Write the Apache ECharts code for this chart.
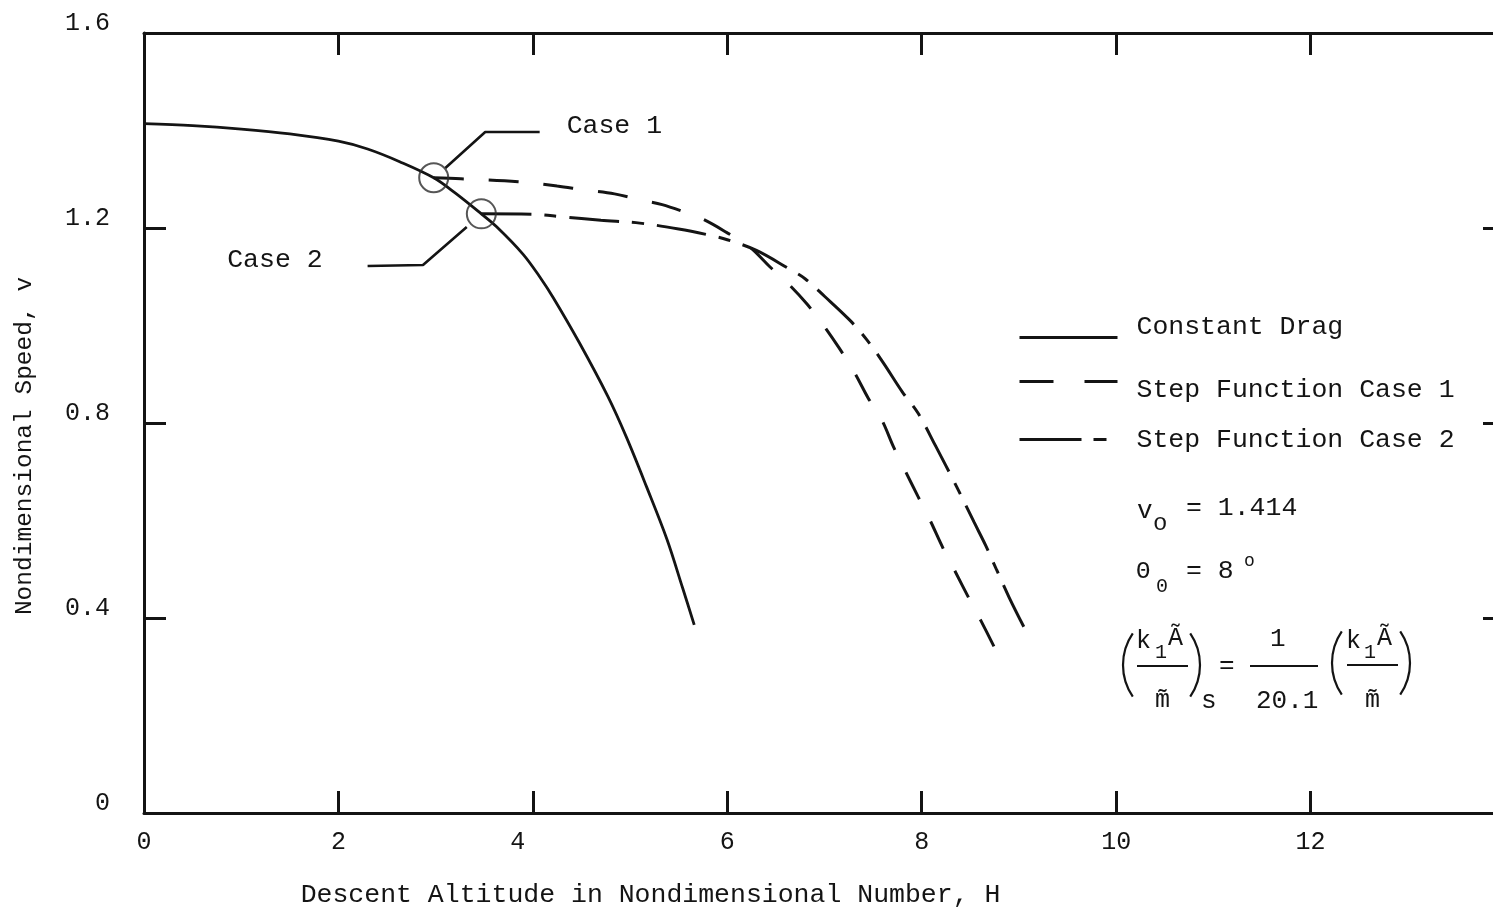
<!DOCTYPE html>
<html>
<head>
<meta charset="utf-8">
<script src="https://cdn.jsdelivr.net/npm/echarts@6/dist/echarts.min.js"></script>
<style>
  html, body { margin: 0; padding: 0; background: #fff; }
  #chart { width: 1493px; height: 909px; }
</style>
</head>
<body>
<div id="chart"></div>
<script>
const FONT = "'Liberation Mono', 'DejaVu Sans Mono', monospace";
const INK = '#141414';

// Descent altitude H and nondimensional speed v along each curve
const constantDragH = [0, 0.5, 1.0, 1.5, 2.0, 2.3, 2.63, 2.98, 3.2, 3.47, 3.63, 3.90, 4.07, 4.21, 4.48, 4.77, 4.96, 5.17, 5.38, 5.54, 5.66];
const constantDragV = [1.414, 1.410, 1.403, 1.393, 1.378, 1.362, 1.336, 1.303, 1.272, 1.229, 1.202, 1.146, 1.100, 1.057, 0.964, 0.855, 0.772, 0.669, 0.561, 0.462, 0.386];

const case1H = [2.98, 3.26, 3.85, 4.25, 4.53, 4.84, 5.12, 5.33, 5.54, 5.76, 6.0, 6.23, 6.44, 6.64, 6.82, 6.98, 7.15, 7.31, 7.45, 7.59, 7.71, 7.81, 7.96, 8.08, 8.22, 8.34, 8.50, 8.61, 8.76];
const case1V = [1.303, 1.301, 1.295, 1.286, 1.278, 1.270, 1.257, 1.248, 1.234, 1.217, 1.190, 1.161, 1.120, 1.083, 1.044, 1.003, 0.954, 0.903, 0.851, 0.806, 0.751, 0.710, 0.650, 0.603, 0.543, 0.497, 0.435, 0.394, 0.335];

const case2H = [3.47, 4.0, 4.3, 4.7, 5.1, 5.5, 5.8, 6.0, 6.3, 6.62, 6.80, 7.0, 7.26, 7.43, 7.6, 7.80, 7.96, 8.14, 8.36, 8.54, 8.66, 8.77, 8.9, 9.05];
const case2V = [1.229, 1.228, 1.223, 1.216, 1.210, 1.198, 1.186, 1.176, 1.154, 1.118, 1.096, 1.060, 1.011, 0.972, 0.925, 0.864, 0.821, 0.754, 0.669, 0.596, 0.548, 0.499, 0.442, 0.382];

// Points where the drag steps down, and the callout lines pointing at them
const stepPointH = [2.98, 3.47];
const stepPointV = [1.303, 1.229];
const case1LeaderH = [3.10, 3.51, 4.07];
const case1LeaderV = [1.323, 1.397, 1.397];
const case2LeaderH = [3.32, 2.87, 2.30];
const case2LeaderV = [1.202, 1.124, 1.122];
const calloutNames = ['Case 1', 'Case 2'];

// Tick labels
const hTickLabels = ['0', '2', '4', '6', '8', '10', '12', ''];
const vTickLabels = ['0', '0.4', '0.8', '1.2', '1.6'];

const seriesNames = ['Constant Drag', 'Step Function Case 1', 'Step Function Case 2'];

const zip = (xs, ys) => xs.map((x, i) => [x, ys[i]]);

const chart = echarts.init(document.getElementById('chart'), null, { renderer: 'canvas' });

const axisLineStyle = { color: INK, width: 3 };
const frameTick = { show: true, inside: true, length: 22, lineStyle: { color: INK, width: 3 } };

function leaderData(xs, ys, text, pos, dist) {
  return zip(xs, ys).map((p, i) => i === xs.length - 1
    ? { value: p, label: { show: true, formatter: text, position: pos, distance: dist, offset: [0, -6],
        fontFamily: FONT, fontSize: 26.5, color: INK } }
    : { value: p });
}

function t(str, x, y, size) {
  return { type: 'text', x: x, y: y, silent: true,
    style: { text: str, fontFamily: FONT, fontSize: size, fill: INK, align: 'left', verticalAlign: 'middle' } };
}
function bar(x1, x2, y) {
  return { type: 'line', silent: true, shape: { x1: x1, y1: y, x2: x2, y2: y }, style: { stroke: INK, lineWidth: 2 } };
}
function paren(edgeX, cy, left) {
  const r = 56, a = 0.6;
  const cx = left ? edgeX + r : edgeX - r;
  const mid = left ? Math.PI : 0;
  return { type: 'arc', silent: true,
    shape: { cx: cx, cy: cy, r: r, startAngle: mid - a, endAngle: mid + a, clockwise: true },
    style: { stroke: INK, lineWidth: 2.2, fill: 'none' } };
}

function legendFor(name, top, dash, shiftUp) {
  return {
    data: [name], left: 1018, top: top, orient: 'vertical', padding: 0,
    itemWidth: 98, itemHeight: 14, selectedMode: false,
    lineStyle: dash ? { width: 3, type: dash } : { width: 3 },
    itemStyle: { opacity: 0 },
    formatter: '{a|{name}}',
    textStyle: {
      fontFamily: FONT, fontSize: 26.5, color: INK, padding: [0, 0, 0, 14],
      rich: { a: { fontFamily: FONT, fontSize: 26.5, color: INK,
        padding: shiftUp > 0 ? [0, 0, 2 * shiftUp, 0] : [-2 * shiftUp, 0, 0, 0] } }
    }
  };
}

const option = {
  backgroundColor: '#ffffff',
  animation: false,
  grid: { left: 144, top: 33, width: 1361, height: 780, containLabel: false, outerBoundsMode: 'none' },
  xAxis: [
    {
      type: 'value', min: 0, max: 14, interval: 2, position: 'bottom',
      axisLine: { show: true, onZero: false, lineStyle: axisLineStyle },
      axisTick: frameTick,
      splitLine: { show: false },
      axisLabel: {
        margin: 17, color: INK, fontFamily: FONT, fontSize: 25,
        formatter: v => {
          const s = hTickLabels[Math.round(v / 2)] || '';
          return v === 4 ? '{l|' + s + '}' : s;
        },
        rich: { l: { padding: [0, 30, 0, 0], fontFamily: FONT, fontSize: 25, color: INK } }
      },
      name: 'Descent Altitude in Nondimensional Number, H',
      nameLocation: 'middle', nameGap: 68,
      nameTextStyle: { fontFamily: FONT, fontSize: 26.5, color: INK, padding: [0, 348, 0, 0] }
    },
    {
      type: 'value', min: 0, max: 14, interval: 2, position: 'top',
      axisLine: { show: true, onZero: false, lineStyle: axisLineStyle },
      axisTick: frameTick,
      splitLine: { show: false },
      axisLabel: { show: false }
    }
  ],
  yAxis: [
    {
      type: 'value', min: 0, max: 1.6, interval: 0.4, position: 'left',
      axisLine: { show: true, onZero: false, lineStyle: axisLineStyle },
      axisTick: frameTick,
      splitLine: { show: false },
      axisLabel: {
        margin: 34, color: INK, fontFamily: FONT, fontSize: 25, verticalAlign: 'bottom', lineHeight: 20,
        formatter: v => vTickLabels[Math.round(v / 0.4)] || ''
      },
      name: 'Nondimensional Speed, v',
      nameLocation: 'middle', nameGap: 107, nameRotate: 90,
      nameTextStyle: { fontFamily: FONT, fontSize: 24.5, color: INK, padding: [0, 46, 0, 0] }
    },
    {
      type: 'value', min: 0, max: 1.6, interval: 0.4, position: 'right',
      axisLine: { show: true, onZero: false, lineStyle: axisLineStyle },
      axisTick: frameTick,
      splitLine: { show: false },
      axisLabel: { show: false }
    }
  ],
  legend: [
    legendFor(seriesNames[0], 313, null, 11),
    legendFor(seriesNames[1], 376, [34, 31], -8),
    legendFor(seriesNames[2], 426, [62, 12, 13, 30], 0)
  ],
  series: [
    {
      name: seriesNames[0], type: 'line', symbol: 'none', smooth: 0.35,
      data: zip(constantDragH, constantDragV),
      lineStyle: { color: INK, width: 2.8, type: 'solid' }, itemStyle: { color: INK }, z: 2
    },
    {
      name: seriesNames[1], type: 'line', symbol: 'none', smooth: 0.35,
      data: zip(case1H, case1V),
      lineStyle: { color: INK, width: 3, type: [30, 25] }, itemStyle: { color: INK }, z: 2
    },
    {
      name: seriesNames[2], type: 'line', symbol: 'none', smooth: 0.35,
      data: zip(case2H, case2V),
      lineStyle: { color: INK, width: 3, type: [50, 13, 12, 13] }, itemStyle: { color: INK }, z: 2
    },
    {
      name: 'step points', type: 'scatter', symbol: 'circle', symbolSize: 29,
      data: zip(stepPointH, stepPointV),
      itemStyle: { color: 'rgba(0,0,0,0)', borderColor: '#2c2c2c', borderWidth: 2 }, z: 4, silent: true
    },
    {
      name: 'case 1 callout', type: 'line', symbol: 'circle', symbolSize: 0, showSymbol: true,
      data: leaderData(case1LeaderH, case1LeaderV, calloutNames[0], 'right', 27),
      lineStyle: { color: INK, width: 2.6 }, itemStyle: { color: INK }, z: 3, silent: true
    },
    {
      name: 'case 2 callout', type: 'line', symbol: 'circle', symbolSize: 0, showSymbol: true,
      data: leaderData(case2LeaderH, case2LeaderV, calloutNames[1], 'left', 45),
      lineStyle: { color: INK, width: 2.6 }, itemStyle: { color: INK }, z: 3, silent: true
    }
  ],
  graphic: [
    // initial conditions
    t('v', 1137, 511, 26), t('o', 1153, 524, 24), t('= 1.414', 1186, 508, 26.5),
    t('\u0398', 1136, 572, 24), t('0', 1156, 587, 20), t('= 8', 1186, 571, 26.5), t('o', 1244, 561, 18),
    // (k1 A / m)_s = 1/20.1 (k1 A / m)
    paren(1123, 665, true),
    t('k', 1136, 641, 25), t('1', 1155, 653, 20), t('\u00C3', 1168, 638, 25),
    bar(1137, 1188, 666),
    t('m\u0303', 1155, 700, 25),
    paren(1200, 665, false),
    t('s', 1201, 701, 26), t('=', 1219, 666, 26),
    t('1', 1270, 639, 26),
    bar(1250, 1318, 666),
    t('20.1', 1256, 701, 26),
    paren(1332, 663, true),
    t('k', 1346, 641, 25), t('1', 1364, 653, 20), t('\u00C3', 1377, 638, 25),
    bar(1347, 1398, 665),
    t('m\u0303', 1365, 700, 25),
    paren(1410, 663, false)
  ]
};

chart.setOption(option);
</script>
</body>
</html>
